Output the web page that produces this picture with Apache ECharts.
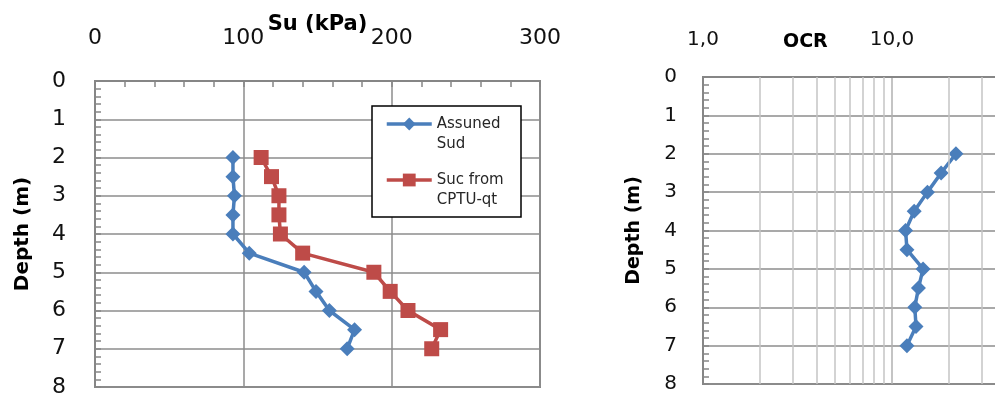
<!DOCTYPE html>
<html>
<head>
<meta charset="utf-8">
<script src="https://cdn.jsdelivr.net/npm/echarts@6/dist/echarts.min.js"></script>
<style>
html,body{margin:0;padding:0;background:#fff;}
#chart{width:995px;height:398px;}
</style>
</head>
<body>
<div id="chart"></div>
<script>
// ---- data ----
const depths = [2, 2.5, 3, 3.5, 4, 4.5, 5, 5.5, 6, 6.5, 7];
const suAssumed = [93, 93, 94, 93, 93, 104, 141, 149, 158, 175, 170];
const sucCPTU = [112, 119, 124, 124, 125, 140, 188, 199, 211, 233, 227];
const ocr = [21.8, 18.2, 15.4, 13.1, 11.8, 12.0, 14.6, 13.8, 13.2, 13.4, 12.0];
const seriesNames = ['Assuned\nSud', 'Suc from\nCPTU-qt', 'OCR'];
const suAxisRange = [0, 300, 100];
const depthAxisRange = [0, 8, 1];
const ocrAxisRange = [1, 100];
const ocrMinorLines = [2, 3, 4, 5, 6, 7, 8, 9, 20, 30, 40, 50, 60, 70, 80, 90];

const FONT = 'DejaVu Sans';
const BLUE = '#4A7EBB';
const RED = '#BE4B48';
const GRID = '#8c8c8c';
const AXIS = '#868686';

const pairs = (vals) => vals.map((v, i) => [v, depths[i]]);

function yAxisFor(gridIndex, fontSize, margin, nameGap, nameSize) {
  return {
    type: 'value', gridIndex: gridIndex, inverse: true,
    min: depthAxisRange[0], max: depthAxisRange[1], interval: depthAxisRange[2],
    name: 'Depth (m)', nameLocation: 'middle', nameRotate: 90, nameGap: nameGap,
    nameMoveOverlap: false,
    nameTextStyle: { fontFamily: FONT, fontWeight: 'bold', fontSize: nameSize, color: '#000' },
    axisLine: { show: true, lineStyle: { color: AXIS, width: 2 } },
    axisTick: { show: true, inside: true, length: 6, lineStyle: { color: AXIS, width: 1.5 } },
    minorTick: { show: true, splitNumber: 5, length: 6, lineStyle: { color: AXIS, width: 1.5 } },
    axisLabel: { fontFamily: FONT, fontSize: fontSize, color: '#111', margin: margin },
    splitLine: { show: true, lineStyle: { color: GRID, width: 1.5 } }
  };
}

const option = {
  animation: false,
  backgroundColor: '#fff',
  grid: [
    { left: 95, top: 81, width: 445, height: 306, show: true, borderColor: AXIS, borderWidth: 2,
      backgroundColor: 'transparent', outerBoundsMode: 'none', containLabel: false },
    { left: 703, top: 77, width: 378, height: 307, show: true, borderColor: AXIS, borderWidth: 2,
      backgroundColor: 'transparent', outerBoundsMode: 'none', containLabel: false }
  ],
  title: {
    text: 'OCR', left: 778, top: 28,
    textStyle: { fontFamily: FONT, fontWeight: 'bold', fontSize: 19, color: '#000' }
  },
  xAxis: [
    {
      type: 'value', gridIndex: 0, position: 'top',
      min: suAxisRange[0], max: suAxisRange[1], interval: suAxisRange[2],
      name: 'Su (kPa)', nameLocation: 'middle', nameGap: 46, nameMoveOverlap: false,
      nameTextStyle: { fontFamily: FONT, fontWeight: 'bold', fontSize: 21, color: '#000' },
      axisLine: { show: true, lineStyle: { color: AXIS, width: 2 } },
      axisTick: { show: true, inside: true, length: 6, lineStyle: { color: AXIS, width: 1.5 } },
      minorTick: { show: true, splitNumber: 5, length: 6, lineStyle: { color: AXIS, width: 1.5 } },
      axisLabel: { fontFamily: FONT, fontSize: 22, color: '#111', margin: 32 },
      splitLine: { show: true, lineStyle: { color: GRID, width: 1.5 } }
    },
    {
      type: 'log', logBase: 10, gridIndex: 1, position: 'top',
      min: ocrAxisRange[0], max: ocrAxisRange[1],
      axisLine: { show: true, lineStyle: { color: AXIS, width: 2 } },
      axisTick: { show: false },
      axisLabel: {
        fontFamily: FONT, fontSize: 20, color: '#111', margin: 27,
        formatter: (v) => v.toFixed(1).replace('.', ',')
      },
      splitLine: { show: true, lineStyle: { color: '#b0b0b0', width: 1.5 } }
    }
  ],
  yAxis: [
    yAxisFor(0, 22, 29, 62, 20),
    yAxisFor(1, 20, 26, 59, 19)
  ],
  legend: {
    show: true, orient: 'vertical', left: 385, top: 94, padding: 0, itemGap: -4,
    itemWidth: 45, itemHeight: 16,
    lineStyle: { width: 3.5 },
    data: [seriesNames[0], seriesNames[1]],
    formatter: (name) => '\n' + name,
    textStyle: { fontFamily: FONT, fontSize: 15, lineHeight: 20, color: '#262626' },
    z: 20
  },
  graphic: [
    { type: 'rect', shape: { x: 372, y: 106, width: 149, height: 111 }, style: { fill: '#fff', stroke: '#000', lineWidth: 1.5 }, z: 10, silent: true }
  ],
  series: [
    {
      name: seriesNames[0], type: 'line', xAxisIndex: 0, yAxisIndex: 0,
      data: pairs(suAssumed), symbol: 'diamond', symbolSize: 15, z: 3,
      lineStyle: { color: BLUE, width: 3.5 }, itemStyle: { color: BLUE }
    },
    {
      name: seriesNames[1], type: 'line', xAxisIndex: 0, yAxisIndex: 0,
      data: pairs(sucCPTU), symbol: 'rect', symbolSize: 15, z: 3,
      lineStyle: { color: RED, width: 3.5 }, itemStyle: { color: RED }
    },
    {
      name: 'minor', type: 'line', xAxisIndex: 1, yAxisIndex: 1, data: [], z: 1,
      markLine: {
        silent: true, symbol: ['none', 'none'], label: { show: false },
        lineStyle: { color: '#c4c4c4', width: 1.5, type: 'solid' },
        data: ocrMinorLines.map((v) => ({ xAxis: v }))
      }
    },
    {
      name: seriesNames[2], type: 'line', xAxisIndex: 1, yAxisIndex: 1,
      data: pairs(ocr), symbol: 'diamond', symbolSize: 15, z: 3,
      lineStyle: { color: BLUE, width: 3.5 }, itemStyle: { color: BLUE }
    }
  ]
};

const chart = echarts.init(document.getElementById('chart'), null, { renderer: 'canvas' });
chart.setOption(option);
</script>
</body>
</html>
